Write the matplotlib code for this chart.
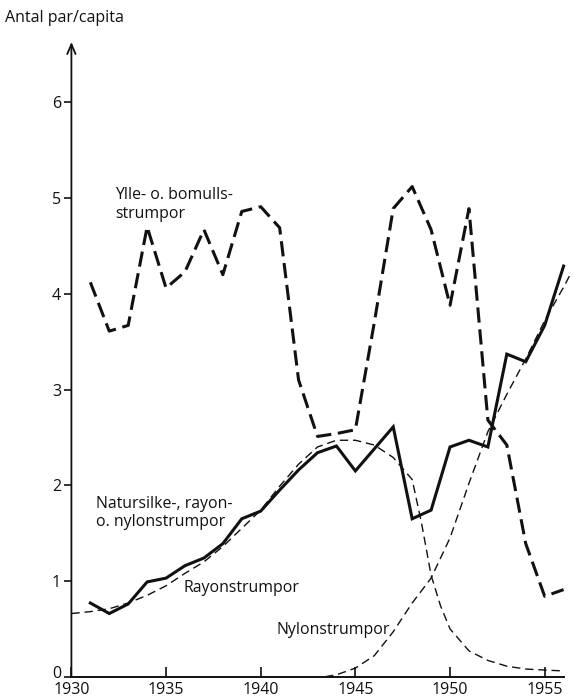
import matplotlib
matplotlib.use("Agg")
import matplotlib.pyplot as plt
import matplotlib.transforms as mtransforms

plt.rcParams['font.family'] = ['Open Sans', 'DejaVu Sans']

# Annual per-capita consumption of stockings (pairs per person)
years = list(range(1931, 1957))
wool_cotton = [4.12, 3.61, 3.67, 4.70, 4.06, 4.23, 4.67, 4.20, 4.86, 4.91,
               4.69, 3.10, 2.51, 2.54, 2.58, 3.70, 4.89, 5.12, 4.67, 3.88,
               4.89, 2.68, 2.42, 1.39, 0.84, 0.91]
silk_rayon_nylon = [0.77, 0.66, 0.76, 0.99, 1.03, 1.16, 1.24, 1.39, 1.65, 1.73,
                    1.95, 2.16, 2.34, 2.41, 2.15, 2.38, 2.61, 1.65, 1.74, 2.40,
                    2.47, 2.40, 3.37, 3.29, 3.67, 4.29]

# Fitted trend curves
rayon_years = [1930, 1931, 1932, 1933, 1934, 1935, 1936, 1937, 1938, 1939,
               1940, 1941, 1942, 1943, 1944, 1945, 1946, 1947, 1948, 1948.5,
               1949, 1949.5, 1950, 1951, 1952, 1953, 1954, 1955, 1956]
rayon = [0.66, 0.68, 0.71, 0.77, 0.85, 0.95, 1.08, 1.20, 1.36, 1.55,
         1.74, 1.99, 2.22, 2.40, 2.47, 2.47, 2.42, 2.29, 2.06, 1.60,
         1.06, 0.74, 0.50, 0.27, 0.17, 0.11, 0.08, 0.07, 0.06]
nylon_years = [1943.4, 1944, 1945, 1946, 1947, 1948, 1949, 1950, 1951, 1952,
               1953, 1954, 1955, 1956, 1956.4]
nylon = [0.00, 0.02, 0.09, 0.22, 0.47, 0.77, 1.03, 1.45, 2.02, 2.56,
         2.95, 3.32, 3.72, 4.07, 4.22]

y_ticks = [0, 1, 2, 3, 4, 5, 6]
x_ticks = [1930, 1935, 1940, 1945, 1950, 1955]

fig = plt.figure(figsize=(5.74, 6.97), dpi=100)
ax = fig.add_axes([0.1244, 0.0291, 0.8575, 0.9106])
ax.set_xlim(1930, 1956.0)
ax.set_ylim(0, 6.63)

ink = '#111111'

ax.plot(rayon_years, rayon, color=ink, lw=1.0, dashes=(6, 3.5),
        solid_capstyle='butt', clip_on=False)
ax.plot(nylon_years, nylon, color=ink, lw=1.0, dashes=(6, 3.5),
        solid_capstyle='butt', clip_on=False)
ax.plot(years, silk_rayon_nylon, color=ink, lw=2.2, solid_joinstyle='miter',
        clip_on=False)
ax.plot(years, wool_cotton, color=ink, lw=2.2, dashes=(5.0, 2.2),
        dash_capstyle='butt', clip_on=False)

# Axes: plain bottom line, left axis with an open arrowhead
for side in ['top', 'right', 'left']:
    ax.spines[side].set_visible(False)
ax.spines['bottom'].set_linewidth(1.4)
ax.spines['bottom'].set_color(ink)
ax.annotate('', xy=(0, 1.0), xycoords='axes fraction',
            xytext=(0, 0), textcoords='axes fraction',
            arrowprops=dict(arrowstyle='->,head_length=0.7,head_width=0.3',
                            color=ink, lw=1.3, shrinkA=0, shrinkB=0))

ax.set_yticks(y_ticks)
ax.set_yticklabels([str(v) for v in y_ticks], fontsize=11.5, fontweight='medium')
ax.set_xticks(x_ticks)
ax.set_xticklabels([str(v) for v in x_ticks], fontsize=11.5, fontweight='medium')
ax.tick_params(axis='y', direction='out', length=5, width=1.2, color=ink,
               pad=2.5, labelcolor=ink)
ax.tick_params(axis='x', direction='in', length=7, width=1.2, color=ink,
               pad=3.5, labelcolor=ink)

# lift the zero label clear of the year labels
zero_label = ax.get_yticklabels()[0]
zero_label.set_transform(zero_label.get_transform() +
                         mtransforms.ScaledTranslation(0, 5 / 100,
                                                       fig.dpi_scale_trans))

fig.text(0.009, 0.974, 'Antal par/capita', fontsize=11.5, color=ink,
         ha='left', va='center')

ax.text(1932.3, 4.93, 'Ylle- o. bomulls-\nstrumpor', fontsize=11.4,
        color=ink, ha='left', va='center', linespacing=1.22)
ax.text(1931.3, 1.71, 'Natursilke-, rayon-\no. nylonstrumpor', fontsize=11.4,
        color=ink, ha='left', va='center', linespacing=1.22)
ax.text(1935.9, 0.93, 'Rayonstrumpor', fontsize=11.4, color=ink,
        ha='left', va='center')
ax.text(1940.85, 0.49, 'Nylonstrumpor', fontsize=11.4, color=ink,
        ha='left', va='center')

fig.savefig('out.png', dpi=100)
